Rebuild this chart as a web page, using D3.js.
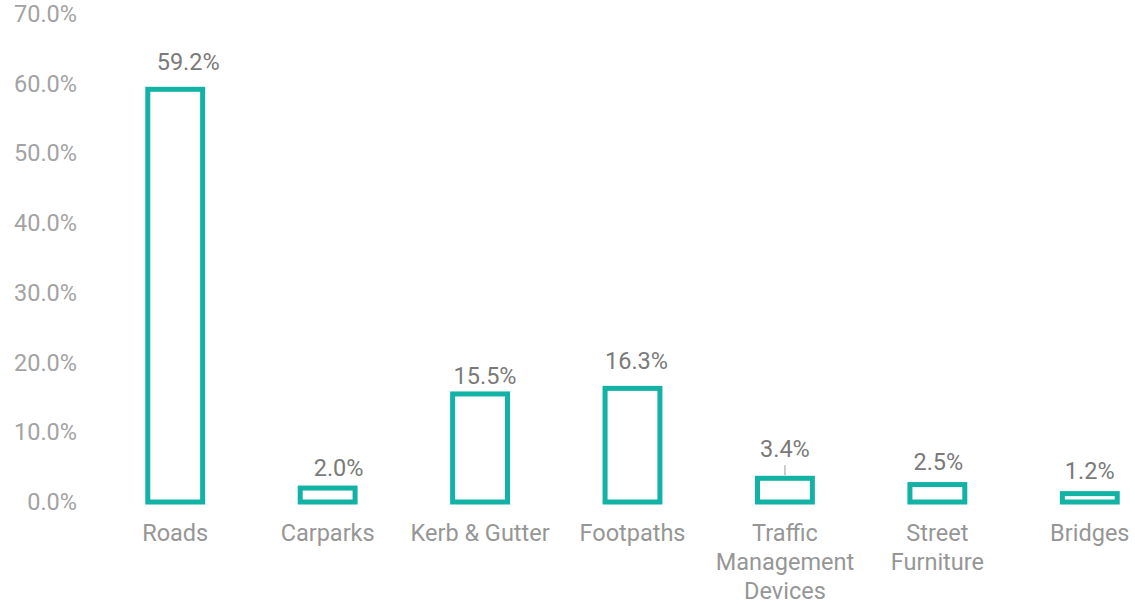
<!DOCTYPE html>
<html>
<head>
  <script src="https://d3js.org/d3.v7.min.js"></script>
  <style>
    body { margin: 0; background: #fff; }
    text { font-family: Roboto, "Liberation Sans", sans-serif; }
  </style>
</head>
<body>
<div class="graph"></div>
<script>
  /* data */
  const categories = ['Roads', 'Carparks', 'Kerb & Gutter', 'Footpaths',
    'Traffic Management Devices', 'Street Furniture', 'Bridges'];
  const categoryLines = [['Roads'], ['Carparks'], ['Kerb & Gutter'], ['Footpaths'],
    ['Traffic', 'Management', 'Devices'], ['Street', 'Furniture'], ['Bridges']];
  const shares = [59.2, 2.0, 15.5, 16.3, 3.4, 2.5, 1.2];
  const yTicks = [0, 10, 20, 30, 40, 50, 60, 70];

  /* label nudges (layout only) */
  const labelDx = [13, 11, 5, 4, 0, 1, 0];
  const labelDy = [19, 12, 10, 19, 21, 15, 15];
  const leader = [false, false, false, false, true, false, false];

  const width = 1135, height = 604;
  const teal = '#12b2a5';
  const fontSize = '23.5px';

  const svg = d3.select('.graph').append('svg')
    .attr('width', width)
    .attr('height', height);

  const x = d3.scaleBand()
    .domain(categories)
    .range([99, 1166])
    .paddingInner(0.64)
    .paddingOuter(0.32);

  const y = d3.scaleLinear()
    .domain([0, 70])
    .range([502, 14]);

  // y axis labels
  const yAxis = d3.axisLeft(y)
    .tickValues(yTicks)
    .tickFormat(d => d.toFixed(1) + '%')
    .tickSize(0)
    .tickPadding(0);

  svg.append('g')
    .attr('class', 'y-axis')
    .attr('transform', 'translate(77,0)')
    .call(yAxis)
    .call(g => g.select('.domain').remove())
    .call(g => g.selectAll('text')
      .attr('fill', '#a3a3a3')
      .style('font-size', fontSize)
      .style('font-family', 'Roboto, sans-serif'));

  // bars
  svg.selectAll('.bar')
    .data(shares)
    .join('rect')
    .attr('class', 'bar')
    .attr('x', (d, i) => x(categories[i]))
    .attr('width', x.bandwidth())
    .attr('y', d => y(d))
    .attr('height', d => y(0) - y(d))
    .attr('fill', '#fff')
    .attr('stroke', teal)
    .attr('stroke-width', 5);

  // data labels
  svg.selectAll('.val')
    .data(shares)
    .join('text')
    .attr('class', 'val')
    .attr('x', (d, i) => x(categories[i]) + x.bandwidth() / 2 + labelDx[i])
    .attr('y', (d, i) => y(d) - labelDy[i])
    .attr('text-anchor', 'middle')
    .attr('fill', '#7a7a7a')
    .style('font-size', fontSize)
    .text(d => d.toFixed(1) + '%');

  // leader lines
  svg.selectAll('.leader')
    .data(shares.map((d, i) => ({ d, i })).filter(o => leader[o.i]))
    .join('line')
    .attr('class', 'leader')
    .attr('x1', o => x(categories[o.i]) + x.bandwidth() / 2)
    .attr('x2', o => x(categories[o.i]) + x.bandwidth() / 2)
    .attr('y1', o => y(o.d) - 13)
    .attr('y2', o => y(o.d) - 3)
    .attr('stroke', '#bdbdbd')
    .attr('stroke-width', 1.5);

  // x labels
  const xl = svg.selectAll('.xlab')
    .data(categoryLines)
    .join('text')
    .attr('class', 'xlab')
    .attr('text-anchor', 'middle')
    .attr('fill', '#969696')
    .style('font-size', fontSize)
    .attr('transform', (d, i) => `translate(${x(categories[i]) + x.bandwidth() / 2},541)`);

  xl.selectAll('tspan')
    .data(d => d)
    .join('tspan')
    .attr('x', 0)
    .attr('y', (d, j) => j * 29)
    .text(d => d);
</script>
</body>
</html>
